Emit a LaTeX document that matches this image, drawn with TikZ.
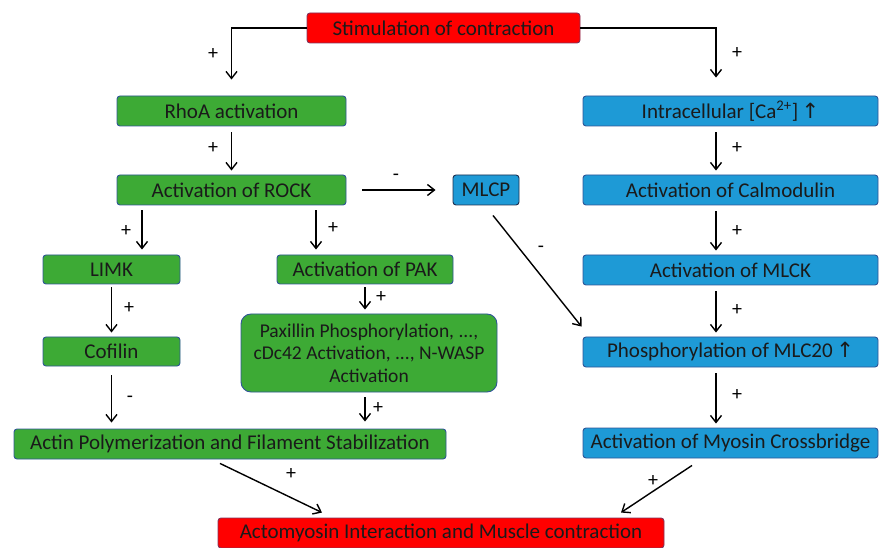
\documentclass[tikz,border=0pt]{standalone}
\usepackage{fontspec}
\setmainfont{Carlito}
\newfontfamily\uparrowfont{DejaVu Sans}
\usetikzlibrary{arrows.meta,calc,positioning}
\definecolor{BoxGreen}{HTML}{3DAA35}
\definecolor{BoxBlue}{HTML}{1E9AD6}
\definecolor{BoxRed}{HTML}{FF0000}
\definecolor{EdgeBlue}{HTML}{2F5597}
\definecolor{EdgeDark}{HTML}{1F2F4F}
\definecolor{TextDark}{HTML}{1A1A1A}
\newcommand{\up}{{\uparrowfont\fontsize{21}{22}\selectfont\,↑}}

\begin{document}
\begin{tikzpicture}[
      x=1pt,y=-1pt,
      font=\fontsize{21}{24}\selectfont,
      text=TextDark,
      box/.style={rounded corners=3pt,line width=0.9pt,minimum height=30pt,inner sep=1pt,align=center},
      greenbox/.style={box,draw=EdgeBlue,fill=BoxGreen},
      bluebox/.style={box,draw=EdgeBlue,fill=BoxBlue},
      redbox/.style={box,draw=EdgeBlue!60!BoxRed,fill=BoxRed},
      arr/.style={-{Straight Barb[length=7pt,width=11pt]},line width=1.4pt,draw=black},
      sign/.style={font=\fontsize{20}{20}\selectfont,text=black,inner sep=0pt}
    ]
      \useasboundingbox (0,0) rectangle (879,548);
      % top and bottom
      \node[redbox,minimum width=273pt] (stim) at (443.5,28) {Stimulation of contraction};
      \node[redbox,minimum width=446pt] (acto) at (441,533) {Actomyosin Interaction and Muscle contraction};
      % RhoA / ROCK branch
      \node[greenbox,minimum width=229pt] (rhoa) at (231.5,111) {RhoA activation};
      \node[greenbox,minimum width=229pt] (rock) at (231.5,190) {Activation of ROCK};
      \node[greenbox,minimum width=137pt,minimum height=29pt] (limk) at (111.5,269.5) {LIMK};
      \node[greenbox,minimum width=137pt,minimum height=29pt] (cof) at (111.5,351.5) {Cofilin};
      \node[greenbox,minimum width=176pt,minimum height=29pt] (pak) at (365,269.5) {Activation of PAK};
      \node[greenbox,minimum width=256pt,minimum height=78pt,rounded corners=10pt,font=\fontsize{19.5}{22.5}\selectfont] (pax) at (369,353)
        {Paxillin Phosphorylation, ...,\\cDc42 Activation, ..., N-WASP\\Activation};
      \node[greenbox,minimum width=432pt] (actin) at (230,444) {Actin Polymerization and Filament Stabilization};
      \node[bluebox,draw=EdgeDark,minimum width=66pt] (mlcp) at (486,190) {MLCP};
      % calcium branch
      \node[bluebox,minimum width=295pt] (ca) at (730.5,111) {Intracellular [Ca\textsuperscript{2+}]\up};
      \node[bluebox,minimum width=295pt] (calm) at (730.5,190) {Activation of Calmodulin};
      \node[bluebox,minimum width=295pt] (mlck) at (730.5,270) {Activation of MLCK};
      \node[bluebox,minimum width=295pt] (mlc) at (730.5,352) {Phosphorylation of MLC20\up};
      \node[bluebox,minimum width=295pt] (myo) at (730.5,443) {Activation of Myosin Crossbridge};

      % connectors
      \draw[arr,shorten >=16pt] (stim.west) -| (rhoa.north);
      \draw[arr,shorten >=18pt] (stim.east) -| ([xshift=-14.5pt]ca.north);
      \draw[arr,shorten <=6pt,shorten >=4pt] (rhoa.south) -- (rock.north);
      \draw[arr,shorten <=16pt,shorten >=17pt] (rock.east) -- (mlcp.west);
      \draw[arr,shorten <=5pt,shorten >=5pt] ([xshift=30.5pt]limk.north |- rock.south) -- ([xshift=30.5pt]limk.north);
      \draw[arr,shorten <=5pt,shorten >=5pt] ([xshift=-49pt]pak.north |- rock.south) -- ([xshift=-49pt]pak.north);
      \draw[arr,shorten <=3pt,shorten >=4pt] (limk.south) -- (cof.north);
      \draw[arr,shorten <=3pt,shorten >=4pt] (pak.south) -- (pak.south |- pax.north);
      \draw[arr,shorten <=9pt,shorten >=6pt] (cof.south) -- (cof.south |- actin.north);
      \draw[arr,shorten <=5pt,shorten >=7pt] ([xshift=-4pt]pax.south) -- ([xshift=-4pt]pax.south |- actin.north);
      \draw[arr] ($(mlcp.south)+(7,10)$) -- ($(mlc.north west)+(-1,-10)$);
      \foreach \a/\b in {ca/calm,calm/mlck,mlck/mlc,mlc/myo}
        \draw[arr,shorten <=6pt,shorten >=4pt] ([xshift=-14.5pt]\a.south) -- ([xshift=-14.5pt]\b.north);
      \draw[arr] ($(actin.south)+(-10,4)$) -- ($(acto.north)+(-119,-5)$);
      \draw[arr] ($(myo.south)+(-38.5,7)$) -- ($(acto.north)+(180,-5)$);

      % signs
      \node[sign] (s1) at (213,54) {+};
      \node[sign] (s2) at (737,53) {+};
      \node[sign] (s3) at (213,148) {+};
      \node[sign] (s4) at (396,177) {-};
      \node[sign] (s5) at (737,148) {+};
      \node[sign] (s6) at (126,231) {+};
      \node[sign] (s7) at (333,228) {+};
      \node[sign] (s8) at (541,249) {-};
      \node[sign] (s9) at (737,231) {+};
      \node[sign] (s10) at (129,308) {+};
      \node[sign] (s11) at (381,297) {+};
      \node[sign] (s12) at (737,310) {+};
      \node[sign] (s13) at (130,399) {-};
      \node[sign] (s14) at (378,408) {+};
      \node[sign] (s15) at (737,395) {+};
      \node[sign] (s16) at (291,474) {+};
      \node[sign] (s17) at (653,481) {+};
\end{tikzpicture}
\end{document}
